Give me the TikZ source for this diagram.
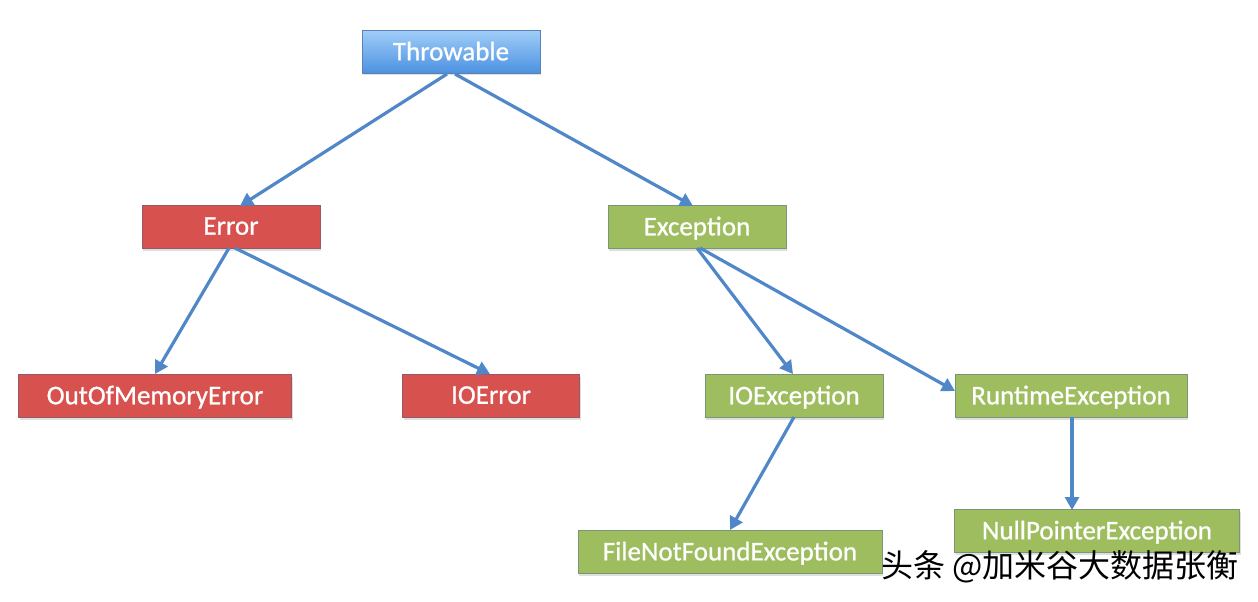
\documentclass[tikz,border=0pt]{standalone}
\usepackage{fontspec}
\setmainfont{Carlito}
\newfontfamily\boxfont[FakeBold=0.8]{Carlito}
\newfontfamily\cjk{Noto Sans CJK SC}
\usetikzlibrary{arrows.meta,shadows}
\definecolor{boxred}{RGB}{215,82,78}
\definecolor{redline}{RGB}{150,90,100}
\definecolor{boxgreen}{RGB}{158,189,94}
\definecolor{greenline}{RGB}{120,150,120}
\definecolor{bluetop}{RGB}{160,205,248}
\definecolor{bluebot}{RGB}{75,145,225}
\definecolor{blueline}{RGB}{90,130,180}
\definecolor{arrowblue}{RGB}{80,135,200}
\tikzset{
  cls/.style={rectangle, minimum height=43pt, inner sep=0pt, text=white,
    font=\boxfont\fontsize{27}{30}\selectfont, line width=1pt,
    text depth=2pt,
    drop shadow={shadow xshift=1pt, shadow yshift=-2pt, opacity=0.25}},
  errbox/.style={cls, fill=boxred, draw=redline},
  excbox/.style={cls, fill=boxgreen, draw=greenline},
  topbox/.style={cls, top color=bluetop, bottom color=bluebot, draw=blueline},
  link/.style={draw=arrowblue, line width=3.2pt, -{Triangle[length=13pt,width=14pt]}}
}
\begin{document}
\begin{tikzpicture}[x=1pt,y=-1pt]
\useasboundingbox (0,0) rectangle (1258,602);
\node[topbox, minimum width=178pt] (thr) at (451,52) {Throwable};
\node[errbox, minimum width=178pt] (err) at (231,227) {Error};
\node[excbox, minimum width=178pt] (exc) at (697,227) {Exception};
\node[errbox, minimum width=273pt] (oom) at (155,396) {OutOfMemoryError};
\node[errbox, minimum width=177pt] (ioe) at (491,396) {IOError};
\node[excbox, minimum width=178pt] (ioex) at (794,396) {IOException};
\node[excbox, minimum width=232pt] (rte) at (1071,396) {RuntimeException};
\node[excbox, minimum width=304pt] (fnf) at (730,552) {FileNotFoundException};
\node[excbox, minimum width=285pt] (npe) at (1097,531) {NullPointerException};
\coordinate (thrA) at (447,74);
\coordinate (thrB) at (455,74);
\coordinate (errA) at (229,248);
\coordinate (errB) at (235,248);
\coordinate (excA) at (697,248);
\coordinate (excB) at (700,248);
\coordinate (ioexB) at (794,417);
\coordinate (rteB) at (1072,417);
\coordinate (errT) at (240,206);
\coordinate (excT) at (693,206);
\coordinate (oomT) at (155,374);
\coordinate (ioeT) at (490,374);
\coordinate (ioexT) at (793,374);
\coordinate (rteL) at (955,391);
\coordinate (fnfT) at (730,530);
\coordinate (npeT) at (1072,510);
\draw[link] (thrA) -- (errT);
\draw[link] (thrB) -- (excT);
\draw[link] (errA) -- (oomT);
\draw[link] (errB) -- (ioeT);
\draw[link] (excA) -- (ioexT);
\draw[link] (excB) -- (rteL);
\draw[link] (ioexB) -- (fnfT);
\draw[link] (rteB) -- (npeT);
\node[font=\cjk\fontsize{32}{34}\selectfont, text=black, inner sep=0pt, anchor=west] (wm) at (881,567) {头条 @加米谷大数据张衡};
\end{tikzpicture}
\end{document}
